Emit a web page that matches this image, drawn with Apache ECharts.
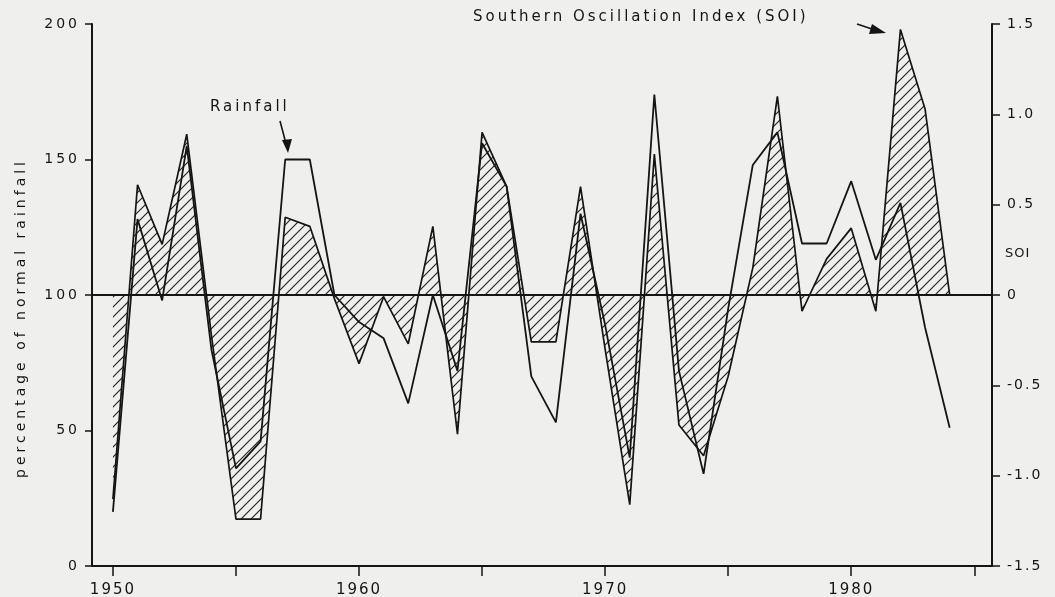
<!DOCTYPE html>
<html>
<head>
<meta charset="utf-8">
<script src="https://cdn.jsdelivr.net/npm/echarts@6/dist/echarts.min.js"></script>
<style>
html,body{margin:0;padding:0;background:#efefed;}
#c{width:1055px;height:597px;}
</style>
</head>
<body>
<div id="c"></div>
<script>
// ---- data ----
const years = [1950,1951,1952,1953,1954,1955,1956,1957,1958,1959,
               1960,1961,1962,1963,1964,1965,1966,1967,1968,1969,
               1970,1971,1972,1973,1974,1975,1976,1977,1978,1979,
               1980,1981,1982,1983,1984];
// rainfall, percentage of normal (left axis)
const rainfall = [20,128,98,155,80,36,46,150,150,100,
                  90,84,60,100,72,156,140,70,53,130,
                  89,40,174,72,34,95,148,160,119,119,
                  142,113,134,88,51];
// Southern Oscillation Index (right axis)
const soi = [-1.13,0.61,0.28,0.89,-0.22,-1.24,-1.24,0.43,0.38,-0.02,
             -0.38,-0.01,-0.27,0.38,-0.77,0.90,0.60,-0.26,-0.26,0.60,
             -0.30,-1.16,0.78,-0.72,-0.89,-0.45,0.15,1.10,-0.09,0.20,
             0.37,-0.09,1.47,1.03,0.00];
const xTicks = [1950,1955,1960,1965,1970,1975,1980,1985];
const xLabels = [1950,1960,1970,1980];

// ---- letter-spaced text, like the typewritten original ----
const spacing = {
  'Southern Oscillation Index (SOI)': '3px',
  'percentage of normal rainfall': '4px',
  'Rainfall': '3px',
  'SOI': '1px',
  '0': '3px', '50': '3px', '100': '3px', '150': '3px', '200': '3px'
};
const origFill = CanvasRenderingContext2D.prototype.fillText;
CanvasRenderingContext2D.prototype.fillText = function (t, x, y, mw) {
  const prev = this.letterSpacing;
  if ('letterSpacing' in this) this.letterSpacing = spacing[t] || '2px';
  if (mw === undefined) origFill.call(this, t, x, y); else origFill.call(this, t, x, y, mw);
  if ('letterSpacing' in this) this.letterSpacing = prev;
};

// ---- hatch pattern ----
const pc = document.createElement('canvas');
pc.width = 10; pc.height = 10;
const g = pc.getContext('2d');
g.strokeStyle = '#262626'; g.lineWidth = 1.2;
g.beginPath();
g.moveTo(0,10); g.lineTo(10,0);
g.moveTo(-2,2); g.lineTo(2,-2);
g.moveTo(8,12); g.lineTo(12,8);
g.stroke();

const ink = '#151515';
const font = 'DejaVu Sans';

const chart = echarts.init(document.getElementById('c'));
chart.setOption({
  backgroundColor: '#efefed',
  animation: false,
  grid: {left: 92, right: 63, top: 24, bottom: 31, containLabel: false, outerBoundsMode: 'none'},
  xAxis: {
    type: 'value', min: 1949.15, max: 1985.72,
    axisLine: {show: true, onZero: false, lineStyle: {color: ink, width: 2}},
    axisTick: {show: true, customValues: xTicks, length: 10, lineStyle: {color: ink, width: 1.5}},
    axisLabel: {customValues: xLabels, margin: 17, color: ink, fontSize: 15, fontFamily: font,
      formatter: v => String(Math.round(v))},
    splitLine: {show: false}
  },
  yAxis: [
    {
      type: 'value', min: 0, max: 200, interval: 50,
      axisLine: {show: true, lineStyle: {color: ink, width: 2}},
      axisTick: {show: true, length: 7, lineStyle: {color: ink, width: 1.5}},
      axisLabel: {margin: 12, color: ink, fontSize: 14, fontFamily: font},
      splitLine: {show: false}
    },
    {
      type: 'value', min: -1.5, max: 1.5, interval: 0.5, position: 'right',
      axisLine: {show: true, lineStyle: {color: ink, width: 2}},
      axisTick: {show: true, length: 8, lineStyle: {color: ink, width: 1.5}},
      axisLabel: {margin: 15, color: ink, fontSize: 14, fontFamily: font,
        formatter: v => (Math.abs(v) < 1e-9 ? '0' : v.toFixed(1))},
      splitLine: {show: false}
    }
  ],
  series: [
    {
      name: 'SOI', type: 'line', yAxisIndex: 1,
      data: years.map((y, i) => [y, soi[i]]),
      showSymbol: false, symbol: 'none',
      lineStyle: {color: ink, width: 1.7},
      areaStyle: {color: {image: pc, repeat: 'repeat'}, opacity: 1},
      z: 2
    },
    {
      name: 'Rainfall', type: 'line', yAxisIndex: 0,
      data: years.map((y, i) => [y, rainfall[i]]),
      showSymbol: false, symbol: 'none',
      lineStyle: {color: ink, width: 1.8},
      markLine: {
        silent: true, symbol: 'none', label: {show: false},
        lineStyle: {color: ink, width: 1.8, type: 'solid'},
        data: [{yAxis: 100}]
      },
      z: 3
    }
  ],
  graphic: [
    {type: 'text', x: 21, y: 318, rotation: Math.PI / 2,
     style: {text: 'percentage of normal rainfall', fill: ink, font: '14px "DejaVu Sans"',
             align: 'center', verticalAlign: 'middle'}},
    {type: 'text', left: 210, top: 100,
     style: {text: 'Rainfall', fill: ink, font: '15px "DejaVu Sans"'}},
    {type: 'polyline', shape: {points: [[280,121],[284,136],[287,148]]},
     style: {stroke: ink, lineWidth: 1.6, fill: null}},
    {type: 'polygon', shape: {points: [[282,140],[292,139],[288,153]]},
     style: {fill: ink}},
    {type: 'text', left: 473, top: 10,
     style: {text: 'Southern Oscillation Index (SOI)', fill: ink, font: '15px "DejaVu Sans"'}},
    {type: 'line', shape: {x1: 857, y1: 24, x2: 878, y2: 31},
     style: {stroke: ink, lineWidth: 1.6}},
    {type: 'polygon', shape: {points: [[872,24],[886,33],[869,34]]},
     style: {fill: ink}},
    {type: 'text', left: 1005, top: 247,
     style: {text: 'SOI', fill: ink, font: '13px "DejaVu Sans"'}}
  ]
});
</script>
</body>
</html>
